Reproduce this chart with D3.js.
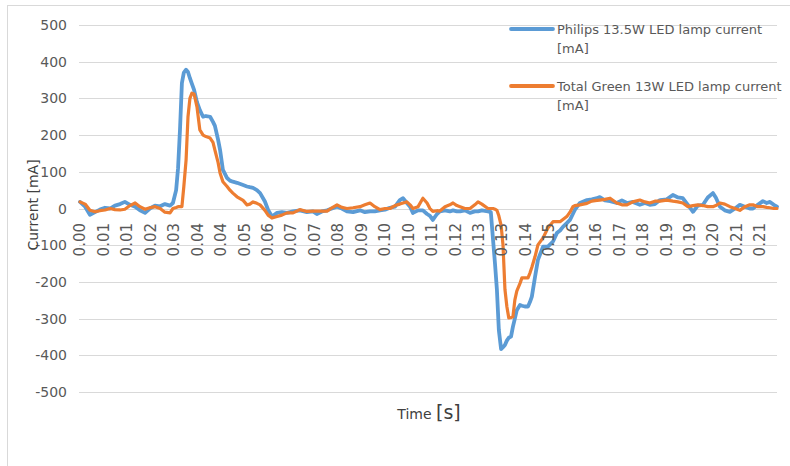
<!DOCTYPE html>
<html>
<head>
<meta charset="utf-8">
<script src="https://cdn.jsdelivr.net/npm/d3@7"></script>
<style>
  body { margin: 0; background: #fff; }
  text { font-family: "DejaVu Sans", Verdana, sans-serif; fill: #595959; }
</style>
</head>
<body>
<div id="chart"></div>
<script>
// time stamps (s)
var timeS = [0.0000,0.0016,0.0031,0.0047,0.0062,0.0078,0.0094,0.0109,0.0125,0.0140,
  0.0156,0.0172,0.0187,0.0203,0.0218,0.0234,0.0250,0.0265,0.0281,0.0290,
  0.0300,0.0306,0.0312,0.0318,0.0324,0.0331,0.0337,0.0343,0.0349,0.0356,
  0.0365,0.0374,0.0384,0.0393,0.0406,0.0415,0.0421,0.0431,0.0437,0.0446,
  0.0459,0.0468,0.0477,0.0490,0.0509,0.0521,0.0530,0.0540,0.0552,0.0562,
  0.0577,0.0587,0.0599,0.0615,0.0630,0.0646,0.0665,0.0686,0.0708,0.0727,
  0.0739,0.0755,0.0771,0.0786,0.0802,0.0817,0.0833,0.0852,0.0874,0.0889,
  0.0905,0.0920,0.0936,0.0952,0.0967,0.0983,0.0998,0.1008,0.1020,0.1030,
  0.1039,0.1055,0.1070,0.1083,0.1092,0.1101,0.1114,0.1123,0.1139,0.1154,
  0.1164,0.1176,0.1186,0.1201,0.1217,0.1232,0.1242,0.1254,0.1273,0.1282,
  0.1289,0.1295,0.1301,0.1307,0.1314,0.1320,0.1326,0.1332,0.1338,0.1345,
  0.1351,0.1357,0.1363,0.1373,0.1379,0.1388,0.1398,0.1404,0.1410,0.1420,
  0.1429,0.1445,0.1460,0.1476,0.1488,0.1498,0.1507,0.1519,0.1529,0.1538,
  0.1544,0.1560,0.1582,0.1597,0.1613,0.1622,0.1638,0.1654,0.1675,0.1691,
  0.1707,0.1725,0.1747,0.1763,0.1778,0.1794,0.1810,0.1831,0.1850,0.1866,
  0.1881,0.1897,0.1913,0.1928,0.1944,0.1959,0.1975,0.1984,0.1997,0.2012,
  0.2028,0.2044,0.2059,0.2075,0.2090,0.2100,0.2115,0.2131,0.2143,0.2153,
  0.2165,0.2175];

// Philips 13.5W LED lamp current (mA)
var philips = [18,5,-17,-10,-3,2,0,8,12,18,
  10,5,-5,-12,0,8,6,12,8,15,
  50,110,214,342,370,378,372,355,340,323,
  290,268,250,252,250,236,225,187,160,105,
  83,76,73,70,64,60,58,56,50,42,
  19,-4,-22,-12,-10,-12,-8,-5,-10,-8,
  -15,-8,-5,0,5,0,-8,-10,-5,-10,
  -8,-8,-5,-3,2,5,23,28,15,5,
  -12,-5,-5,-15,-20,-31,-15,-8,-5,-8,
  -5,-8,-8,-5,-12,-8,-8,-5,-8,-10,
  -86,-150,-222,-331,-383,-378,-372,-360,-352,-349,
  -322,-300,-277,-263,-265,-267,-267,-255,-240,-186,
  -140,-104,-104,-90,-67,-60,-50,-40,-31,-15,
  -4,15,23,25,28,31,22,20,15,22,
  15,18,10,15,10,12,23,25,37,30,
  28,10,-9,8,10,30,42,30,5,-5,
  -9,0,10,5,0,0,10,20,15,18,
  10,5];

// Total Green 13W LED lamp current (mA)
var totalGreen = [18,12,-5,-9,-6,-4,0,-3,-4,-2,
  8,15,5,-2,2,5,0,-10,-12,0,
  3,5,5,5,60,132,250,300,314,312,
  277,214,200,196,192,180,159,125,97,73,
  60,50,42,32,22,10,12,18,14,10,
  -5,-18,-26,-22,-18,-12,-12,-3,-8,-7,
  -7,-7,-7,2,10,3,0,2,5,10,
  15,5,-3,0,0,8,12,15,18,10,
  0,5,28,15,0,-8,-6,-7,5,10,
  15,8,5,0,0,10,18,12,0,0,
  0,-2,-5,-20,-45,-100,-220,-267,-298,-297,
  -295,-249,-225,-204,-189,-189,-189,-176,-160,-131,
  -99,-80,-53,-36,-36,-36,-30,-22,-10,5,
  8,10,14,20,22,23,25,28,15,10,
  10,18,23,18,15,20,20,23,20,18,
  15,5,8,10,8,5,5,8,15,12,
  5,0,-5,5,10,10,5,5,3,2,
  0,0];

var xTickLabels = ["0.00","0.01","0.01","0.02","0.03","0.04","0.04","0.05","0.06","0.07",
  "0.07","0.08","0.09","0.10","0.10","0.11","0.12","0.13","0.13","0.14",
  "0.15","0.16","0.16","0.17","0.18","0.19","0.19","0.20","0.21","0.21"];
var tickStep = 0.007316; // time between category labels
var yTicks = [500, 400, 300, 200, 100, 0, -100, -200, -300, -400, -500];

var seriesNames = ["Philips 13.5W LED lamp current", "Total Green 13W LED lamp current"];
var colors = ["#5b9bd5", "#ed7d31"];

var W = 790, H = 466;
var svg = d3.select("#chart").append("svg")
  .attr("width", W).attr("height", H);

// chart frame
svg.append("rect")
  .attr("x", 7.5).attr("y", 5.5)
  .attr("width", 800).attr("height", 480)
  .attr("fill", "#fff").attr("stroke", "#d9d9d9");

var x = d3.scaleLinear().domain([0, 0.2175]).range([80, 777]);
var y = d3.scaleLinear().domain([-500, 500]).range([392, 25]);

// gridlines
svg.append("g").selectAll("line")
  .data(yTicks).enter().append("line")
  .attr("x1", 79).attr("x2", 777)
  .attr("y1", function (d) { return Math.round(y(d)) + 0.5; })
  .attr("y2", function (d) { return Math.round(y(d)) + 0.5; })
  .attr("stroke", "#d9d9d9").attr("stroke-width", 1);

// y tick labels
svg.append("g").selectAll("text")
  .data(yTicks).enter().append("text")
  .attr("x", 67)
  .attr("y", function (d) { return y(d); })
  .attr("dy", "0.36em")
  .attr("text-anchor", "end")
  .style("font-size", "14px")
  .text(function (d) { return d; });

// lines
var line = d3.line()
  .x(function (d) { return x(d[0]); })
  .y(function (d) { return y(d[1]); });

[philips, totalGreen].forEach(function (vals, i) {
  svg.append("path")
    .datum(timeS.map(function (t, j) { return [t, vals[j]]; }))
    .attr("fill", "none")
    .attr("stroke", colors[i])
    .attr("stroke-width", i === 0 ? 3.8 : 3.2)
    .attr("stroke-linejoin", "round")
    .attr("stroke-linecap", "round")
    .attr("d", line);
});

// x tick labels (rotated)
svg.append("g").selectAll("text")
  .data(xTickLabels).enter().append("text")
  .attr("transform", function (d, i) {
    return "translate(" + x(i * tickStep) + ",223)rotate(-90)";
  })
  .attr("dy", "0.36em")
  .attr("text-anchor", "end")
  .style("font-size", "15px")
  .text(function (d) { return d; });

// axis titles
svg.append("text")
  .attr("transform", "translate(33,205)rotate(-90)")
  .attr("dy", "0.36em")
  .attr("text-anchor", "middle")
  .style("font-size", "14px")
  .style("fill", "#404040")
  .text("Current [mA]");

var xt = svg.append("text")
  .attr("x", 429).attr("y", 419)
  .attr("text-anchor", "middle")
  .style("fill", "#404040");
xt.append("tspan").style("font-size", "14px").text("Time ");
xt.append("tspan").style("font-size", "19px").text("[s]");

// legend
var legend = svg.append("g");
seriesNames.forEach(function (name, i) {
  var ly = 29 + i * 57;
  legend.append("line")
    .attr("x1", 511).attr("x2", 553)
    .attr("y1", ly).attr("y2", ly)
    .attr("stroke", colors[i]).attr("stroke-width", 3.8)
    .attr("stroke-linecap", "round");
  var t = legend.append("text")
    .attr("x", 557).attr("y", ly + 5)
    .style("font-size", "13px");
  t.append("tspan").text(name);
  t.append("tspan").attr("x", 557).attr("dy", 19).text("[mA]");
});
</script>
</body>
</html>
